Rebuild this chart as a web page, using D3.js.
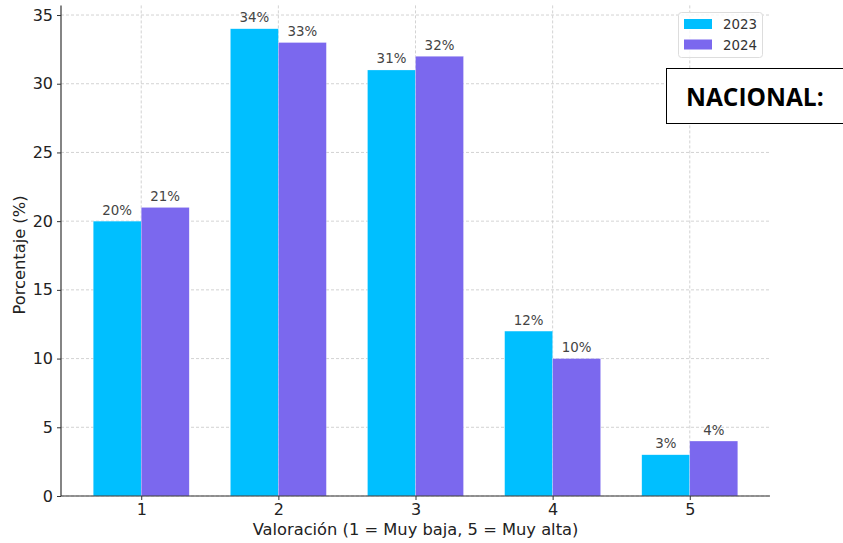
<!DOCTYPE html>
<html><head><meta charset="utf-8">
<script src="https://cdn.jsdelivr.net/npm/d3@7"></script>
<style>body{margin:0;background:#fff;}svg{display:block;font-family:"DejaVu Sans",sans-serif;}</style>
</head><body>
<svg id="c" width="843" height="543"></svg>
<script>
const categories = ["1","2","3","4","5"];
const years = ["2023","2024"];
const values2023 = [20,34,31,12,3];
const values2024 = [21,33,32,10,4];
const yTicks = [0,5,10,15,20,25,30,35];
const colors = ["#00BFFF","#7B68EE"];

const svg = d3.select("#c");
const L=61, R=770, T=5.4, B=496;
const x = d3.scaleLinear().domain([0.415,5.585]).range([L,R]);
const y = d3.scaleLinear().domain([0,35.7]).range([B,T]);
const bw = 0.35;

// grid
const g = svg.append("g");
g.selectAll(".gy").data(yTicks).join("line")
  .attr("x1",L).attr("x2",R).attr("y1",d=>y(d)).attr("y2",d=>y(d))
  .attr("stroke","#c8c8c8").attr("stroke-width",0.8).attr("stroke-dasharray","3,2");
g.selectAll(".gx").data(categories).join("line")
  .attr("x1",(d,i)=>x(i+1)).attr("x2",(d,i)=>x(i+1)).attr("y1",T).attr("y2",B)
  .attr("stroke","#c8c8c8").attr("stroke-width",0.8).attr("stroke-dasharray","3,2");

const series = [values2023, values2024];
series.forEach((vals,si)=>{
  const off = si===0 ? -bw : 0;
  svg.append("g").selectAll("rect").data(vals).join("rect")
    .attr("x",(d,i)=>x(i+1+off)).attr("width",x(bw)-x(0))
    .attr("y",d=>y(d)).attr("height",d=>B-y(d))
    .attr("fill",colors[si]).attr("stroke","#ffffff").attr("stroke-width",0.5).attr("stroke-opacity",0.5);
  svg.append("g").selectAll("text").data(vals).join("text")
    .attr("x",(d,i)=>x(i+1+off+bw/2)).attr("y",d=>y(d)-6.5)
    .attr("text-anchor","middle").attr("font-size",13.4).attr("fill","#444")
    .text(d=>d+"%");
});

// axes
const yAxis = d3.axisLeft(y).tickValues(yTicks).tickSize(4).tickPadding(4);
const ya = svg.append("g").attr("transform",`translate(${L},0)`).call(yAxis);
const xAxis = d3.axisBottom(x).tickValues([1,2,3,4,5]).tickFormat((d,i)=>categories[i]).tickSize(4).tickPadding(4);
const xa = svg.append("g").attr("transform",`translate(0,${B})`).call(xAxis);
[ya,xa].forEach(a=>{
  a.select(".domain").attr("stroke","#333").attr("stroke-width",1.2);
  a.selectAll(".tick line").attr("stroke","#333");
  a.selectAll(".tick text").attr("font-size",16).attr("fill","#222").attr("font-family","DejaVu Sans");
});
ya.select(".domain").attr("d",`M0,${T}V${B}`);
xa.select(".domain").attr("d",`M${L},0H${R}`);

// axis labels
svg.append("text").attr("x",(L+R)/2).attr("y",535).attr("text-anchor","middle")
  .attr("font-size",16.3).attr("fill","#222").text("Valoración (1 = Muy baja, 5 = Muy alta)");
svg.append("text").attr("transform",`translate(25,255) rotate(-90)`).attr("text-anchor","middle")
  .attr("font-size",16.3).attr("fill","#222").text("Porcentaje (%)");

// legend
const lg = svg.append("g");
lg.append("rect").attr("x",678.5).attr("y",12.5).attr("width",84).attr("height",45).attr("rx",3)
  .attr("fill","#fff").attr("fill-opacity",0.8).attr("stroke","#ddd");
years.forEach((yr,i)=>{
  lg.append("rect").attr("x",684).attr("y",19+i*20.5).attr("width",28).attr("height",10).attr("fill",colors[i]);
  lg.append("text").attr("x",723).attr("y",29+i*20.5).attr("font-size",13.4).attr("fill","#333").text(yr);
});

// NACIONAL box
svg.append("rect").attr("x",666.5).attr("y",68.5).attr("width",190).attr("height",55)
  .attr("fill","#fff").attr("stroke","#000").attr("stroke-width",1);
svg.append("text").attr("x",686).attr("y",106).attr("font-size",24.5).attr("font-weight","bold")
  .attr("fill","#000").attr("font-family","Open Sans, DejaVu Sans, sans-serif").text("NACIONAL:");
</script>
</body></html>
